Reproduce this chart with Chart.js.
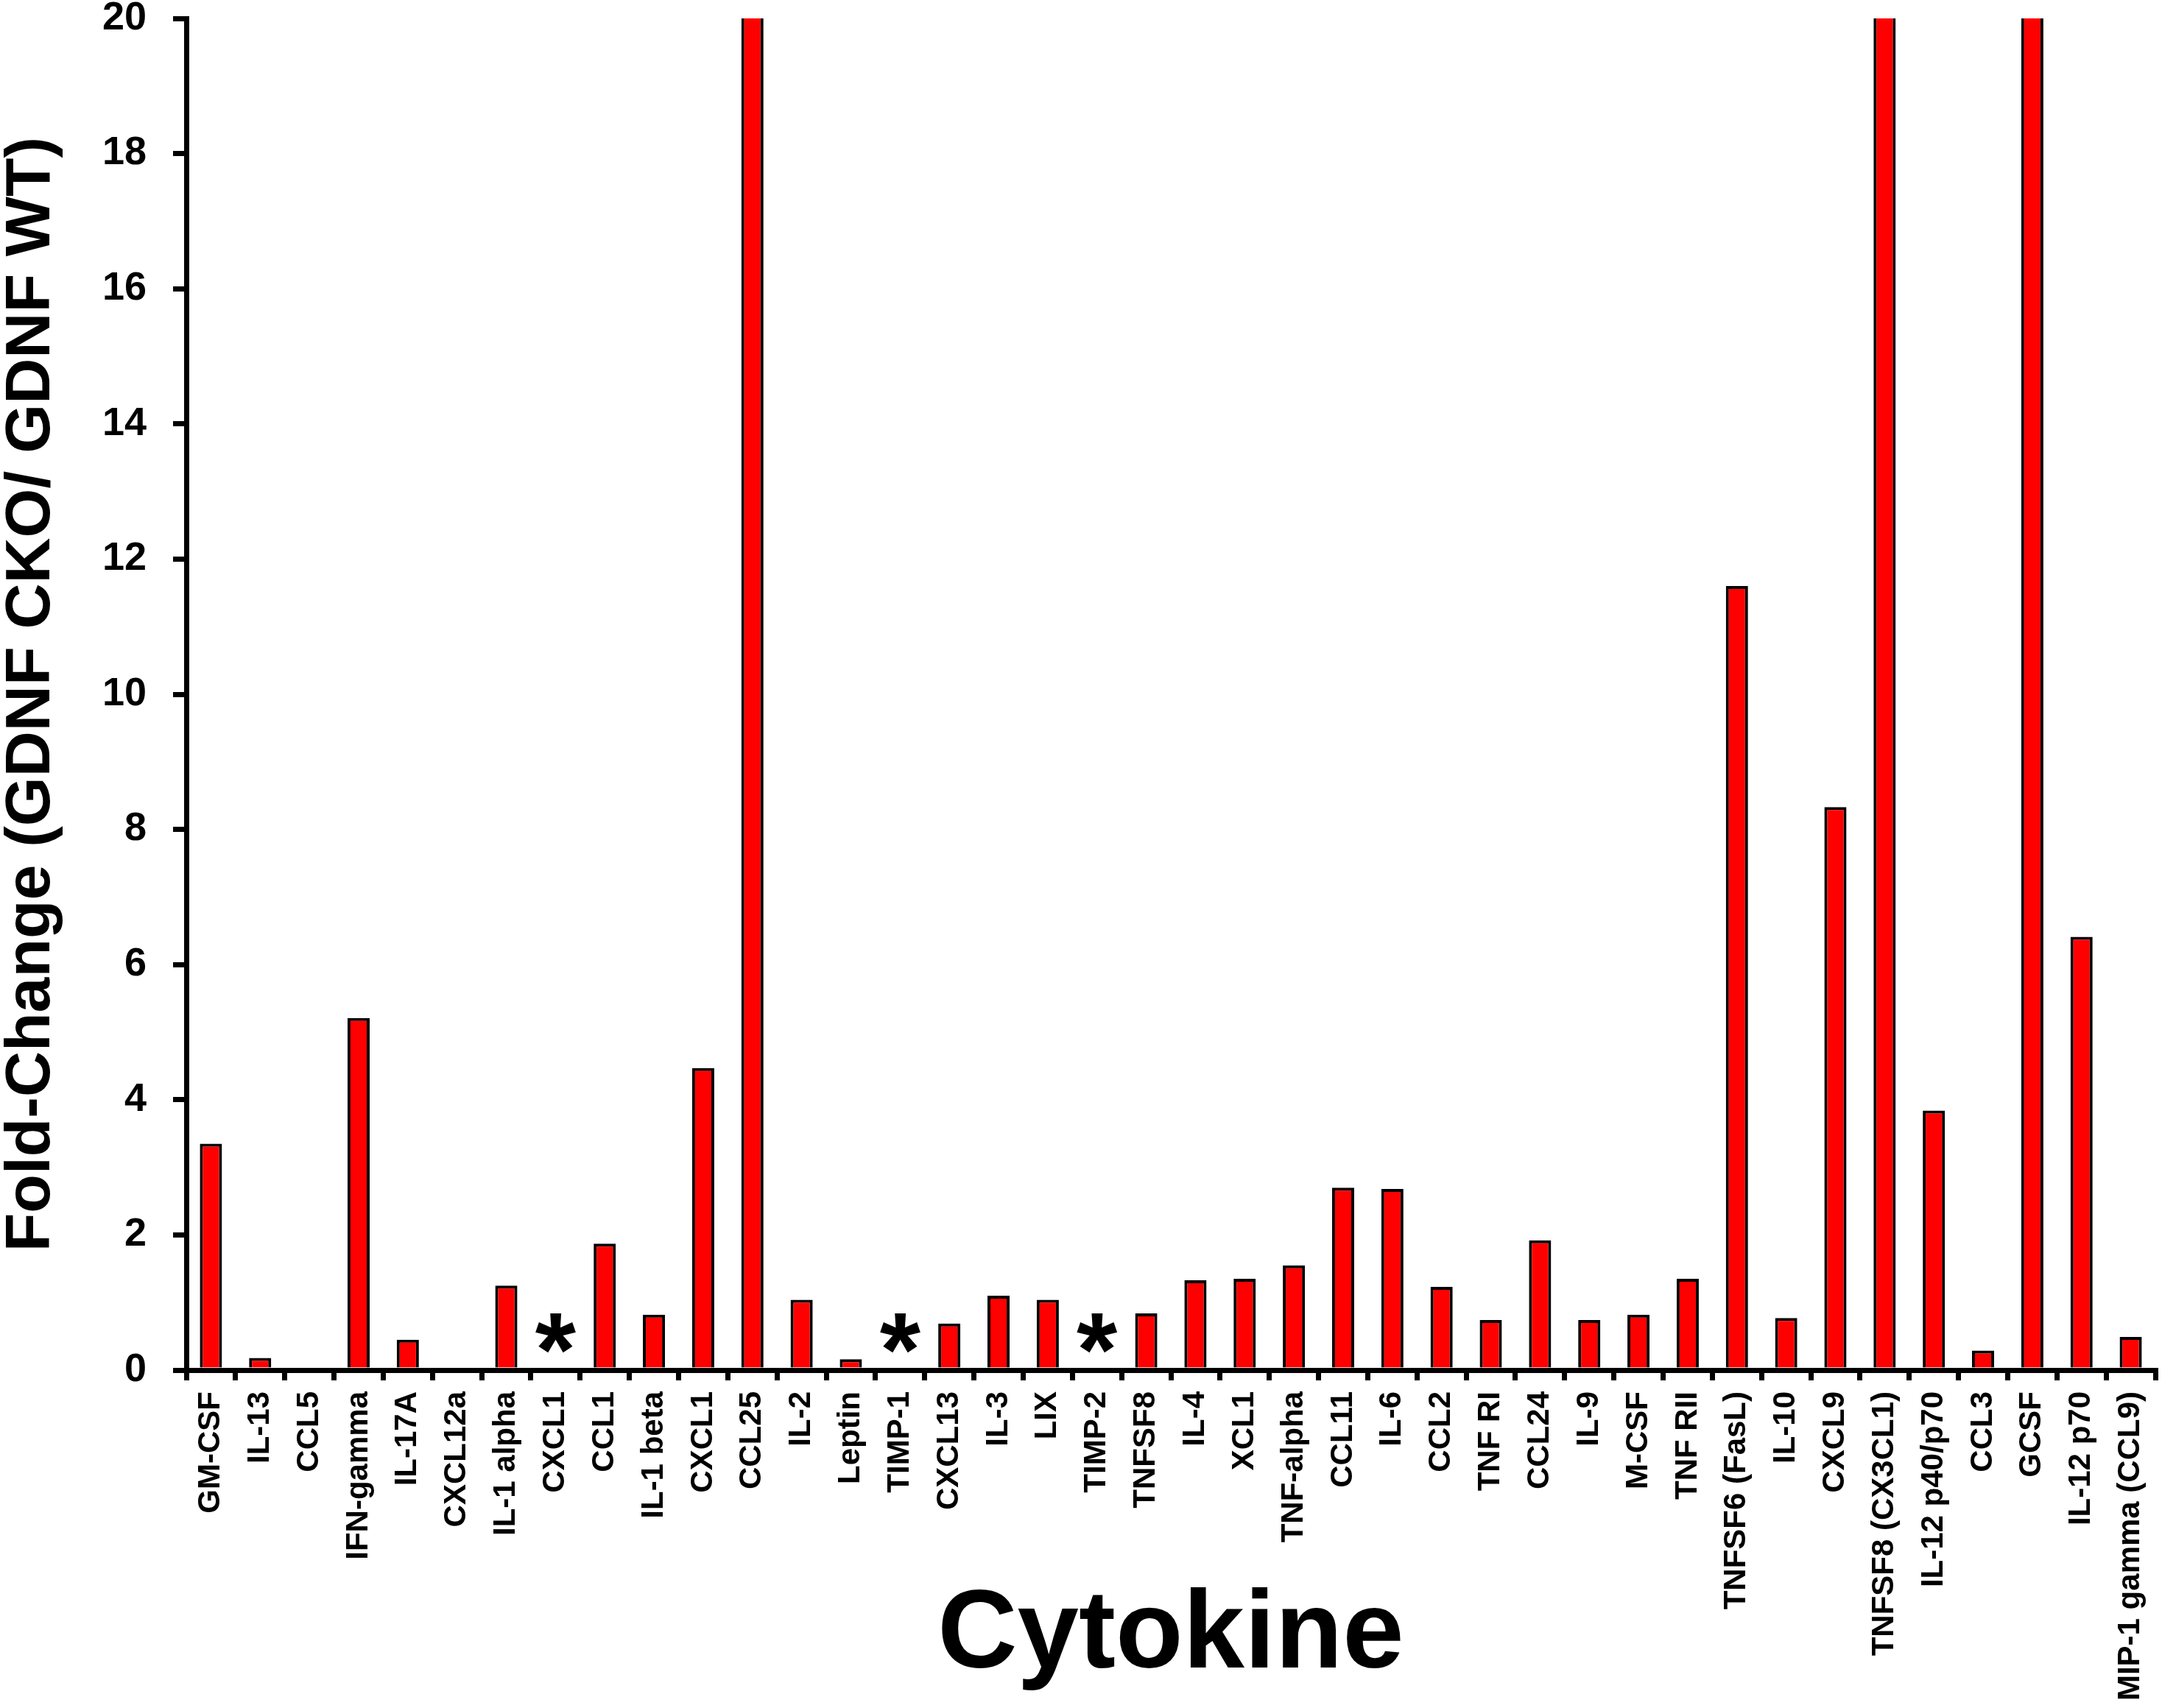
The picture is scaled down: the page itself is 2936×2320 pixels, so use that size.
<!DOCTYPE html>
<html>
<head>
<meta charset="utf-8">
<script src="https://cdn.jsdelivr.net/npm/chart.js@4/dist/chart.umd.min.js"></script>
<style>
  html, body { margin: 0; padding: 0; background: #fff; }
  canvas { display: block; }
</style>
</head>
<body>
<canvas id="cytokineChart" width="2936" height="2320" style="width:2936px;height:2320px"></canvas>
<script>
const cytokines = [
  'GM-CSF', 'IL-13', 'CCL5', 'IFN-gamma', 'IL-17A', 'CXCL12a', 'IL-1 alpha', 'CXCL1',
  'CCL1', 'IL-1 beta', 'CXCL1', 'CCL25', 'IL-2', 'Leptin', 'TIMP-1', 'CXCL13',
  'IL-3', 'LIX', 'TIMP-2', 'TNFSF8', 'IL-4', 'XCL1', 'TNF-alpha', 'CCL11',
  'IL-6', 'CCL2', 'TNF RI', 'CCL24', 'IL-9', 'M-CSF', 'TNF RII', 'TNFSF6 (FasL)',
  'IL-10', 'CXCL9', 'TNFSF8 (CX3CL1)', 'IL-12 p40/p70', 'CCL3', 'GCSF', 'IL-12 p70', 'MIP-1 gamma (CCL9)'
];

// fold change CKO / WT; CCL25, TNFSF8 (CX3CL1) and GCSF run off the top of the axis
const foldChange = [
  3.35, 0.18, 0, 5.21, 0.45, 0, 1.25, 0,
  1.87, 0.82, 4.47, 21, 1.04, 0.16, 0, 0.69,
  1.10, 1.04, 0, 0.84, 1.33, 1.35, 1.55, 2.70,
  2.68, 1.23, 0.74, 1.92, 0.74, 0.82, 1.35, 11.60,
  0.77, 8.33, 21, 3.84, 0.29, 21, 6.41, 0.49
];

// categories marked with an asterisk, and the height the asterisk sits at
const starredIdx = [7, 14, 18];
const starLevel = 0.55;

const yMin = 0;
const yMax = 20;
const yStep = 2;

const FONT = "'Liberation Sans', Arial, Helvetica, sans-serif";

const asterisks = {
  id: 'asterisks',
  afterDatasetsDraw(chart) {
    const { ctx, scales: { x, y } } = chart;
    ctx.save();
    ctx.font = 'bold 100px ' + FONT;
    const m = ctx.measureText('*');
    const h100 = m.actualBoundingBoxAscent + m.actualBoundingBoxDescent;
    const size = 100 * 54 / h100;
    ctx.font = 'bold ' + size + 'px ' + FONT;
    const m2 = ctx.measureText('*');
    ctx.fillStyle = '#000';
    ctx.textAlign = 'center';
    ctx.textBaseline = 'alphabetic';
    starredIdx.forEach((i) => {
      const cx = x.getPixelForValue(i);
      const cy = y.getPixelForValue(starLevel);
      const base = cy + (m2.actualBoundingBoxAscent - m2.actualBoundingBoxDescent) / 2;
      ctx.fillText('*', cx, base);
    });
    ctx.restore();
  }
};

new Chart(document.getElementById('cytokineChart'), {
  type: 'bar',
  data: {
    labels: cytokines,
    datasets: [{
      label: 'Fold-Change',
      data: foldChange,
      backgroundColor: '#ff0000',
      borderColor: '#000000',
      borderWidth: 4,
      barPercentage: 0.5,
      categoryPercentage: 0.9,
      clip: 0
    }]
  },
  options: {
    responsive: false,
    devicePixelRatio: 1,
    animation: false,
    layout: { padding: { top: 25, right: 9, left: 0, bottom: 0 } },
    plugins: {
      legend: { display: false },
      tooltip: { enabled: false }
    },
    scales: {
      x: {
        offset: true,
        grid: {
          display: true,
          offset: true,
          drawOnChartArea: false,
          drawTicks: true,
          tickLength: 14,
          color: '#000',
          lineWidth: 7
        },
        border: { display: true, color: '#000', width: 7 },
        ticks: {
          autoSkip: false,
          minRotation: 90,
          maxRotation: 90,
          padding: 15,
          color: '#000',
          font: { family: FONT, size: 42, weight: 'bold' }
        },
        title: {
          display: true,
          text: 'Cytokine',
          color: '#000',
          font: { family: FONT, size: 150, weight: 'bold', lineHeight: 1 },
          padding: { top: 0, bottom: 21 }
        },
        afterFit(scale) {
          scale.height = 2320 - 1861;
          scale.paddingLeft = 0;
          scale.paddingRight = 0;
        }
      },
      y: {
        min: yMin,
        max: yMax,
        grid: {
          display: true,
          drawOnChartArea: false,
          drawTicks: true,
          tickLength: 18,
          color: '#000',
          lineWidth: 7
        },
        border: { display: true, color: '#000', width: 7 },
        ticks: {
          stepSize: yStep,
          padding: 36,
          color: '#000',
          font: { family: FONT, size: 54, weight: 'bold', lineHeight: 1 }
        },
        title: {
          display: true,
          text: 'Fold-Change (GDNF CKO/ GDNF WT)',
          color: '#000',
          font: { family: FONT, size: 86, weight: 'bold', lineHeight: 1 },
          padding: { top: 0, bottom: 0 }
        },
        afterFit(scale) {
          scale.width = 253;
          scale.paddingTop = 0;
          scale.paddingBottom = 0;
        }
      }
    }
  },
  plugins: [asterisks]
});
</script>
</body>
</html>
